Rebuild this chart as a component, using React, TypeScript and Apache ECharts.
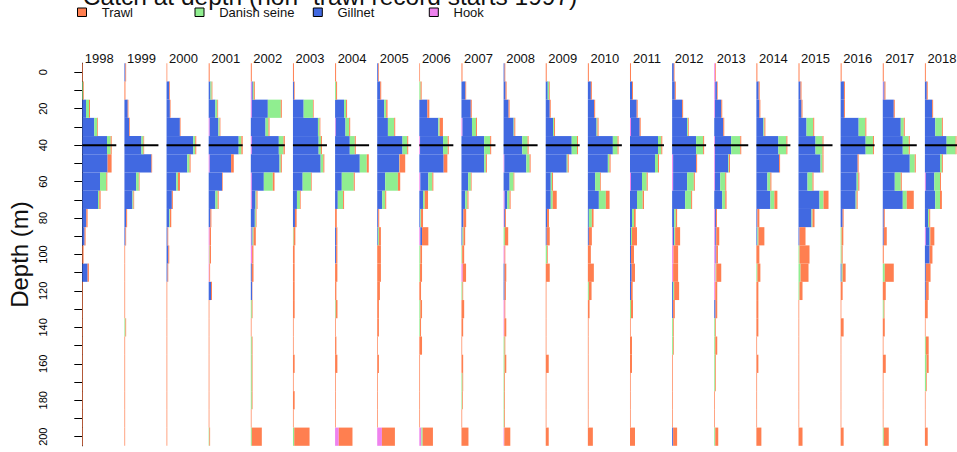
import React, { useEffect, useRef } from "react";
import * as echarts from "echarts";

const years = ["1998","1999","2000","2001","2002","2003","2004","2005","2006","2007","2008","2009","2010","2011","2012","2013","2014","2015","2016","2017","2018"];
const depths = ["0","10","20","30","40","50","60","70","80","90","100","110","120","130","140","150","160","170","180","190","200"];
const gears = ["Trawl", "Danish seine", "Gillnet", "Hook"];
const gearColors = ["#FF7F50", "#90EE90", "#4169E1", "#EE82EE"];
const refDepth = "40";
const panelMax = 34;

// catch at depth (relative units), one row per year, one value per depth bin
const trawl = [
  [0.7,0.7,1,0.7,1,4,1,1.3,1.3,1,1.3,1.3,0.7,0.7,0.7,0.7,0.7,0.7,0.7,0.7,0.7],
  [0.7,1,0.7,0.7,0.7,0.7,0.7,0.7,1,0.7,0.7,0.7,0.7,0.7,0.7,0.7,0.7,0.7,0.7,0.7,0.7],
  [0.7,0.7,0.7,0.7,1,1,2,1,1.3,0.7,1,0.7,0.7,0.7,0.7,0.7,0.7,0.7,0.7,0.7,0.7],
  [1,0.7,0.7,0.7,1.3,2.7,0.7,1,1,1.3,1.3,0.7,1,0.7,0.7,0.7,0.7,0.7,0.7,0.7,0.7],
  [1,1,1,1,1.3,1,1.7,1,0.7,2.3,1.3,1.7,0.3,0.7,0.7,0.7,0.7,0.7,0.7,0.7,10],
  [1,0.7,0.7,0.7,1,1,0.7,0.7,1.7,1.7,1.7,1.7,1.7,1.7,0.7,0.7,1.7,0.7,1.7,0.7,15.3],
  [1,1,1,1,1,2,1,1,1.7,1.3,1.3,2.3,1.3,1.7,0.7,1.3,2.3,0.7,0.7,0.7,13.7],
  [0.7,1,1.3,1,1,5.7,2.3,1,1,2,3.7,3.7,2.7,1.7,1.7,0.7,1.7,0.7,0.7,0.7,13],
  [0.7,1,2,3.3,1,3.7,1,3.3,2,6.3,1.7,2,1.7,1.7,1,2.7,0.7,0.7,0.7,0.7,10.3],
  [1,0.7,1,1,1,1,0.7,1,2.7,1.7,2,3.3,0.7,2.7,1.7,0.7,1.7,0.7,0.7,0.7,7],
  [0.7,1,1,1,1,1,0.7,1,1,3.3,0.7,1.7,1.3,0.7,2,0.7,1.7,0.7,0.7,0.7,6],
  [1,0.7,1,1,1,1,1,4,2,3,0.7,4,0.7,0.7,0.7,0.7,3,0.7,0.7,0.7,3],
  [1,1,1,1,1,1,0.7,3.7,1.7,3,3,6,2.7,1.7,0.7,0.7,0.7,0.7,0.7,0.7,5],
  [1,1,1,1,1,1,1,1.3,1.7,5,3,3.3,1.7,2,0.7,2,2,0.7,0.7,0.7,5],
  [0.7,1,1,0.7,1,1,1,1,1.3,5,4.7,5,5,1.7,0.7,0.7,0.7,0.7,0.7,0.7,4],
  [0.7,0.7,1,1,1,1,1,1.3,1,3,1.7,5,2,1.7,0.7,2,0.7,0.7,0.7,0.7,3],
  [1,1,1,1,1,1,1,3,2,6,3,3,2,2,2,0.7,2,0.7,0.7,0.7,5],
  [1,1,1,1,1,1,1,5,2,6,10,8,3,0.7,0.7,0.7,0.7,0.7,0.7,0.7,4],
  [1,1,1,1,1,1,1,1,1,1.7,1,3,2,0.7,3,0.7,0.7,0.7,0.7,0.7,3],
  [1,1,1,1,1,1,1,7,1,3,1,9,3,0.7,2,0.7,3,0.7,0.7,0.7,5],
  [1,1,1,1,1,1,1,2,1,4.3,3,5,3,3,0.7,3,2.3,0.7,0.7,0.7,3],
];

const danishSeine = [
  [0,1,3,3,3.7,0,6.3,1.3,0,0,0,0,0,0,0,0,0,0,0,0,0],
  [0,0,0,0,2,0,2.7,1,0,0,0,0,0,0,1,0,0,0,0,0,0],
  [0,0,0,0,2,2.3,1.7,0,0.7,0,0,0,0,0,0,0,0,0,0,0,0],
  [0,1.3,2,1.3,2.7,0,0,2.3,0,0,0.5,0,0,0,0,0,0,0,0,0,0.7],
  [0,1,13,3,4.7,1.3,9,1,1,1,0,0,0,1,0,1,1,1,1,0,1],
  [0,0,9.3,1.7,2.3,2.7,8.3,3,0,0.7,0,0,0,0,0,0,0,0,0,0,1.3],
  [0,1,2,3.7,5,7,12,5.3,0,0,0,0,0,0.7,0,0,0,0,0,0,0],
  [0,0,2,6.3,4.7,0.3,12.7,3,0,1,0,0,0,0,0,0,0,0,0,0,0],
  [0,1.3,0,1.3,4.7,0,4,1.7,0.7,0,1,0.7,0,1,0.7,0,0,0,0,0,1.3],
  [0,0,0,4,6,1.7,2.7,2.3,0,1,0.7,0,1,0,0,0,0,1,0.7,0,0],
  [0,0,0,0.7,5.3,3.3,4,2.3,0,1.3,0,0,0,0,0,1,1,0.7,0.7,0.7,0],
  [0,1.3,0,1,5.3,1,1.3,2,0,0,1.3,0,0,0,0,0,0,0,0,0,0],
  [0,0,0,1,4.7,1.7,5,7,3,0,0,0,1,0,0,0,0,0,0,0,0],
  [0,0,0,0,3.3,3,4.7,5.7,2,1,0,0,0,1,0,0,0,0,0,0,0],
  [0,0,0,1,7,0,6.7,6,1.7,1,0,0,1,0,1,1,0,0,0,0,0],
  [0,0,0,0,9,0.7,5,3,0,0,0,0.7,0,0,1,1,1,1,0,0,1],
  [0,0,0,1,8,0,3,4,0,1,0,1,0,0,0,0,0,0,0,0,0],
  [0,0,0,6.7,7,2,5,4,1,0,1,2,1,0,0,0,0,0,0,0,0],
  [0,0,0,6.7,7.3,0,1.7,1,0,1,1,1,0,0,0,0,0,0,0,0,0],
  [0,0,0,3,6,5,6,4,0,0,0,2,0,1,0,0,0,0,0,0,1],
  [0,0,0,7,9.5,2,6,5,1.3,0.7,0,0,0,0,0,1,1.7,1.3,0,0,0],
];

const gillnet = [
  [0,0,3.7,12,24.7,25.3,17.7,15.7,4,2.3,0,5.3,0,0,0,0,0,0,0,0,0],
  [1,0,3.3,4.7,17,27,11.7,8,1.7,1,0,0,0,0,0,0,0,0,0,0,0],
  [0,2.7,3.3,13.3,26.7,20.7,9.7,5.3,2.7,1,1.7,1,0,0,0,0,0,0,0,0,0],
  [0,1.7,6.7,8.7,30,21.4,13.3,6.7,1.7,0,0,0,2.3,0,0,0,0,0,0,0,0],
  [0,1,16,14.7,27,28.7,12,3.7,4,1,0,1,1.3,0,0,0,0,0,0,0,0],
  [0,1,10.7,25,25.7,27.7,9.7,4,2,0,0,0,0,0,0,0,0,0,0,0,0],
  [0,0,9,9.7,14.7,24.7,6.7,2.7,0,1,1,0,0,0,0,0,0,0,0,0,0],
  [1,3,7,10.7,25.3,22,8,5,1,0.7,0,0,0,0,0,0,0,0,0,0,0],
  [0,0,8,19,23,24.3,8,3.7,1,1.7,0,0,0,0,0,0,0,0,0,0,0],
  [0,4,9.3,9.5,22.7,22.7,6.7,3.7,2,1,0,0,0,0,0,0,0,0,0,0,0],
  [1,2,5,10,18.7,22,6,2.7,0.8,0,0,1,1,0,0,0,0,0,0,0,0],
  [0,2,4,7.3,26,21,5,5,1.3,1,0,0,0,0,0,0,0,0,0,0,0],
  [0,3,6.3,8.7,25,20,7.3,11,1,1,0,0,0,0,0,0,0,0,0,0,0],
  [0,2,6.7,8.7,28,25,11,7,2,1,1,1.7,1,0,0,0,0,0,0,0,0],
  [1.7,2.7,10,15,24,23,14,13,2,1.3,0,0,1,1,0,0,0,0,0,0,1],
  [0,1.7,6.3,9,16.3,13.3,5.3,8,1,1,0.7,0,0,1.3,0,0,0,0,0,0,0],
  [0,2.3,3,7,22,22.7,11,14,1,1,0,0,0,0,0,0,0,0,0,0,0],
  [0,2,3,8,17,22,9,21,13,1,0,0,0,0,0,0,0,0,0,0,0],
  [0,3.3,3.3,18,25,17,16,15,2,0,0,1,0,0,0,0,0,0,0,0,0],
  [0,1,11,18,20,27,12,20,1,1,0,0,0,0,0,0,0,0,0,0,0],
  [0,2,7.7,11,23,16,9,11,3.3,4,5,1,1,0,0,0,0,0,0,0,0],
];

const hook = [
  [0,0,0,0,0,0,0,0,0,0,0,0,0,0,0,0,0,0,0,0,0],
  [0,0,0,0,0,0,0,0,0,0,0,0,0,0,0,0,0,0,0,0,0],
  [0,0,0,0,0,0,0,0,0,0,0,0,0,0,0,0,0,0,0,0,0],
  [0,0,0,1,0,1,0,0,0,1,0.5,0.7,0,0,0,0,0,0,0,0,0],
  [0,1,1,0,1,0,1,1,0,0.7,1.3,0,0,0,0,0,0,0,0,0,0],
  [0,0,0,0,0,0,0,0,0,0,0,0,0,0,0,0,0,0,0,0,0],
  [0,0,0,0.7,0,0,0,0,0,0,0,0,0,0,0,0,0,0,0,0,3.7],
  [0,0,0,0,0,0,0,0,0,0,0,0,0,0,0,0,0,0,0,0,4.7],
  [0,0,0,0,0.7,0,1,0,0,1,0,0,0,0,0,0,0,0,0,0,2],
  [0,0,0,1,0,0,0,0,0,0,0,1.3,0,0,0,0,0,0,0,0,0],
  [0,0,0,0,0,0.7,0,1,0.5,0,1,0,0,1,0.7,0,0,0,0,0,0.7],
  [0,0,0,0,0,0,0,0,0,0,0,0,0,0,0,0,0,0,0,0,0],
  [0,0,0,0,0,0,0,0,0,0,0,0,0,0,0,0,0,0,0,0,0],
  [0,0,0,1,0,0,1,0,0,0,0,0,0,0,0,0,0,0,0,0,0],
  [0,0,0,0,0,1,1,0,0,0.7,1.3,1,0,0,0,0,0,0,0,0,0],
  [1,1,0.7,0,0.7,0.7,0.7,0,0.7,1,1.3,1.3,1,0,0,0,0,0,0,0,0],
  [0,0,0,0,0,0,0,0,0,0,0,0,0,0,0,0,0,0,0,0,0],
  [0,0,0,0,0,0,0,0,0,0,0,0,0,0,0,0,0,0,0,0,0],
  [0,0,0,0,0,0,0,0,0,0,0,0,0,0,0,0,0,0,0,0,0],
  [0,0.7,0,0,0,0,0,0,0,0,0,0,0,0,0,0,0,0,0,0,0],
  [0,0,0,0,0,0,1,0,0,1,0,0,0,0,0,0,0,0,0,0,0],
];

const FONT = "'Liberation Sans', Arial, Helvetica, sans-serif";

export default function App() {
  const ref = useRef<HTMLDivElement>(null);
  useEffect(() => {
    document.body.style.margin = "0";
    if (!ref.current) return;
    const chart = echarts.init(ref.current, null, { renderer: "svg" });

    const top = 63.2;
    const height = 382.6;
    const left0 = 82.3;
    const step = 42.13;
    const pw = 34;

    const grids: any[] = [];
    const xAxes: any[] = [];
    const yAxes: any[] = [];
    const series: any[] = [];
    const graphics: any[] = [];

    // stacking order from the axis outwards: Hook, Gillnet, Danish seine, Trawl
    const stackOrder = [
      { name: "Hook", data: hook, color: gearColors[3] },
      { name: "Gillnet", data: gillnet, color: gearColors[2] },
      { name: "Danish seine", data: danishSeine, color: gearColors[1] },
      { name: "Trawl", data: trawl, color: gearColors[0] },
    ];

    years.forEach((yr, i) => {
      const left = left0 + step * i;
      grids.push({ left, top, width: pw, height, containLabel: false });
      xAxes.push({ type: "value", gridIndex: i, min: 0, max: panelMax, show: false });
      if (i === 0) {
        yAxes.push({
          type: "category", gridIndex: i, data: depths, inverse: true, position: "left", offset: 17.3,
          axisLine: { show: true, lineStyle: { color: "#000", width: 1 } },
          axisTick: { show: true, alignWithLabel: true, interval: 0, length: 8, lineStyle: { color: "#000", width: 1 } },
          axisLabel: { interval: 1, rotate: 90, fontSize: 11, color: "#000", margin: 17, fontFamily: FONT },
          splitLine: { show: false },
        });
      } else {
        yAxes.push({ type: "category", gridIndex: i, data: depths, inverse: true, show: false });
      }
      stackOrder.forEach((g) => {
        series.push({
          type: "bar", name: g.name, xAxisIndex: i, yAxisIndex: i, stack: "s" + i,
          data: g.data[i], barWidth: "100%", barCategoryGap: "0%",
          itemStyle: { color: g.color }, silent: true,
        });
      });
      series.push({
        type: "line", xAxisIndex: i, yAxisIndex: i, data: [[0, refDepth], [panelMax, refDepth]],
        symbol: "none", lineStyle: { color: "#000", width: 2 }, z: 5, silent: true,
      });
      graphics.push({
        type: "text", x: left + pw / 2, y: 58.2,
        style: { text: yr, fill: "#111", font: `13px ${FONT}`, align: "center", verticalAlign: "middle", textAlign: "center", textVerticalAlign: "middle" },
      });
    });

    // title (partly above the page)
    graphics.push({
      type: "text", x: 330, y: -3.6,
      style: { text: "Catch at depth (non- trawl record starts 1997)", fill: "#111", font: `24.5px ${FONT}`, align: "center", verticalAlign: "middle", textAlign: "center", textVerticalAlign: "middle" },
    });
    // y axis name
    graphics.push({
      type: "text", x: 19, y: 254.5, rotation: Math.PI / 2,
      style: { text: "Depth (m)", fill: "#111", font: `24px ${FONT}`, align: "center", verticalAlign: "middle", textAlign: "center", textVerticalAlign: "middle" },
    });
    // legend
    const legendX = [77.5, 195, 313.3, 429.3];
    gears.forEach((g, k) => {
      graphics.push({
        type: "rect", shape: { x: legendX[k], y: 8, width: 9, height: 8.5 },
        style: { fill: gearColors[k], stroke: "#000", lineWidth: 1 },
      });
      graphics.push({
        type: "text", x: legendX[k] + 24.2, y: 12.3,
        style: { text: g, fill: "#111", font: `13px ${FONT}`, align: "left", verticalAlign: "middle", textAlign: "left", textVerticalAlign: "middle" },
      });
    });

    chart.setOption({
      animation: false,
      backgroundColor: "#fff",
      grid: grids,
      xAxis: xAxes,
      yAxis: yAxes,
      series,
      graphic: { elements: graphics },
    });
    return () => chart.dispose();
  }, []);
  return <div ref={ref} style={{ position: "absolute", left: 0, top: 0, width: 957, height: 452 }} />;
}
